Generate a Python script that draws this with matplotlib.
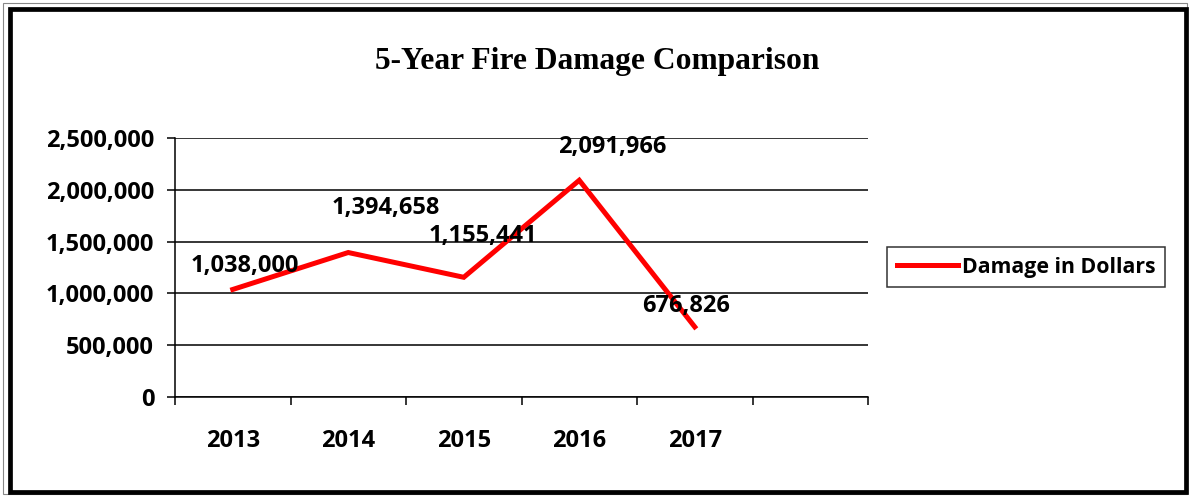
import matplotlib
matplotlib.use("Agg")
import matplotlib.pyplot as plt
from matplotlib.patches import Rectangle
from matplotlib.ticker import FuncFormatter

# data
years = ["2013", "2014", "2015", "2016", "2017"]
damage = [1038000, 1394658, 1155441, 2091966, 676826]
series_name = "Damage in Dollars"
title = "5-Year Fire Damage Comparison"
# label offsets (points) relative to each data point
label_offsets = [(9, 17), (27, 32), (14, 30), (24, 24), (-6, 15)]

plt.rcParams['font.family'] = ['Open Sans', 'DejaVu Sans']
plt.rcParams['font.weight'] = 'bold'
fs = 17

fig = plt.figure(figsize=(11.89, 4.96), dpi=100)
W, H = 1189, 496
ax = fig.add_axes([175 / W, 1 - 397 / H, (868 - 175) / W, (397 - 138) / H])

xs = [i + 0.5 for i in range(len(years))]
ax.plot(xs, damage, color="#ff0000", lw=3.6, solid_joinstyle="miter", label=series_name)

for x, v, off in zip(xs, damage, label_offsets):
    ax.annotate(f"{v:,}", (x, v), xytext=off, textcoords="offset points",
                ha="center", va="center", fontsize=fs, fontweight="bold")

ax.set_xlim(0, 6)
ax.set_ylim(0, 2500000)
ax.set_yticks(range(0, 2500001, 500000))
ax.yaxis.set_major_formatter(FuncFormatter(lambda v, p: f"{int(v):,}"))
ax.set_xticks(range(0, 7))
ax.set_xticklabels([])
ax.set_xticks(xs, minor=True)
ax.set_xticklabels(years, minor=True)
ax.tick_params(axis="x", which="major", direction="out", length=6, width=1.1, color="black")
ax.tick_params(axis="x", which="minor", length=0, pad=23, labelsize=fs)
ax.tick_params(axis="y", direction="out", length=6, width=1.1, pad=9, labelsize=fs)
for lab in ax.get_xticklabels(minor=True) + ax.get_yticklabels():
    lab.set_fontweight("bold")

ax.grid(axis="y", color="black", lw=1.1)
ax.set_axisbelow(True)
for s in ["top", "right"]:
    ax.spines[s].set_visible(False)
for s in ["left", "bottom"]:
    ax.spines[s].set_linewidth(1.1)
    ax.spines[s].set_zorder(3)

fig.text(597 / W, 1 - 62 / H, title, ha="center", va="center",
         fontsize=22.7, fontweight="bold", family="Liberation Serif")

leg = ax.legend(loc="center", bbox_to_anchor=(1026 / W, 1 - 267 / H),
                bbox_transform=fig.transFigure, prop={"weight": "bold", "size": 15.3},
                frameon=True, fancybox=False, handlelength=2.9, handletextpad=0.15,
                borderpad=0.45, borderaxespad=0)
leg.get_frame().set_edgecolor("black")
leg.get_frame().set_linewidth(1.1)

# outer chart border
fig.patches.append(Rectangle((2.5 / W, 2.5 / H), (W - 5) / W, (H - 5) / H, transform=fig.transFigure,
                             fill=False, edgecolor="#888888", lw=0.8))
fig.patches.append(Rectangle((9.5 / W, 4.5 / H), (W - 13) / W, (H - 13) / H, transform=fig.transFigure,
                             fill=False, edgecolor="black", lw=3.4))

fig.savefig("out.png", dpi=100)
